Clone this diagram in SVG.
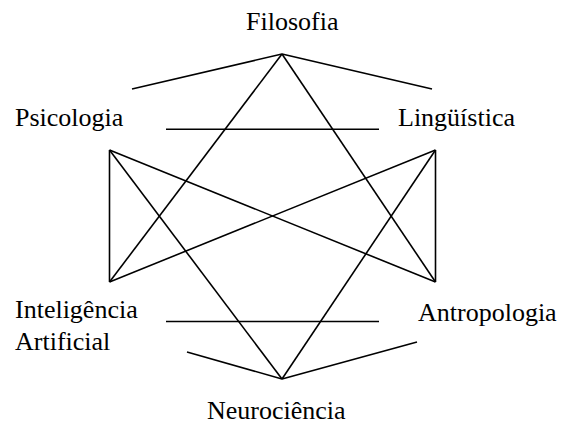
<svg xmlns="http://www.w3.org/2000/svg" width="562" height="435" viewBox="0 0 562 435">
<style>
.t{font-family:"Liberation Serif","Times New Roman",serif;font-size:26px;fill:#000}
.c line{stroke:#000;stroke-width:1.6;stroke-linecap:butt;fill:none}
</style>
<rect width="562" height="435" fill="#fff"/>
<g class="c" id="connectors">
<line x1="132" y1="89" x2="282" y2="54"/>
<line x1="282" y1="54" x2="432" y2="89"/>
<line x1="282" y1="54" x2="109.5" y2="282"/>
<line x1="282" y1="54" x2="435.5" y2="282"/>
<line x1="166" y1="129.3" x2="379" y2="129.3"/>
<line x1="109.5" y1="150" x2="109.5" y2="282"/>
<line x1="109.5" y1="150" x2="435.5" y2="282"/>
<line x1="109.5" y1="150" x2="282" y2="379"/>
<line x1="435.5" y1="150" x2="435.5" y2="282"/>
<line x1="435.5" y1="150" x2="109.5" y2="282"/>
<line x1="435.5" y1="150" x2="282" y2="379"/>
<line x1="166" y1="321.5" x2="379" y2="321.5"/>
<line x1="187" y1="352" x2="282" y2="379"/>
<line x1="282" y1="379" x2="417" y2="342"/>
</g>
<g id="filosofia"><text class="t" x="246" y="30">Filosofia</text></g>
<g id="psicologia"><text class="t" x="15" y="126">Psicologia</text></g>
<g id="linguistica"><text class="t" x="398" y="126">Lingüística</text></g>
<g id="ia"><text class="t" x="15" y="318">Inteligência</text><text class="t" x="15" y="350">Artificial</text></g>
<g id="antropologia"><text class="t" x="418" y="321">Antropologia</text></g>
<g id="neurociencia"><text class="t" x="207" y="419">Neurociência</text></g>
</svg>
